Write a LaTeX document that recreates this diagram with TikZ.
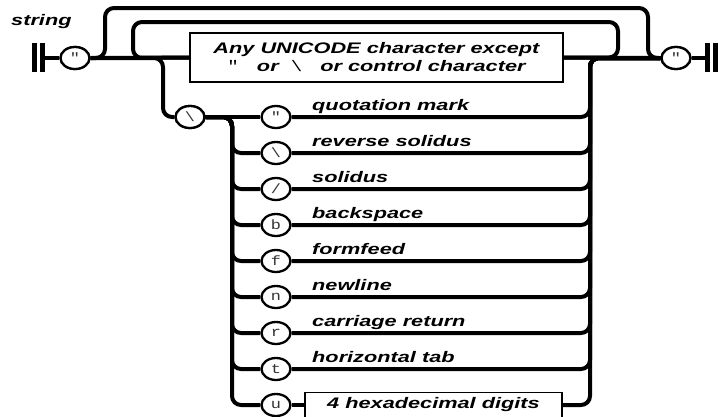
\documentclass[tikz,border=0pt]{standalone}
\usepackage{fontspec}
\usetikzlibrary{shapes.geometric,calc}
\newfontfamily\lab{Liberation Sans}[FakeStretch=1.42]
\newfontfamily\mono{Liberation Mono}[FakeStretch=1.25]
\begin{document}
\begin{tikzpicture}[x=1pt,y=-1pt,
  rail/.style={line width=4pt},
  bar/.style={line width=5pt},
  term/.style={ellipse, draw, line width=2.3pt, fill=white, minimum width=29pt, minimum height=22pt, inner sep=0pt, font=\mono\fontsize{13.5}{13.5}\selectfont, text=black!80},
  lbox/.style={draw, line width=1.6pt, fill=white, inner sep=0pt, font=\lab\bfseries\itshape\fontsize{15.3}{18}\selectfont, align=center},
  lab/.style={anchor=base west, inner sep=0pt, font=\lab\bfseries\itshape\fontsize{15.3}{18}\selectfont}]
\useasboundingbox (0,0) rectangle (718,416);

% title
\node[lab] (title) at (11,25) {string};

% bars
\coordinate (s1a) at (34.5,43); \coordinate (s1b) at (34.5,72);
\coordinate (s2a) at (42.5,43); \coordinate (s2b) at (42.5,72);
\coordinate (s2m) at (42.5,58);
\coordinate (t1a) at (707.5,43); \coordinate (t1b) at (707.5,72);
\coordinate (t2a) at (715.5,43); \coordinate (t2b) at (715.5,72);
\coordinate (t1m) at (707.5,58);
\coordinate (busL) at (232,0);
\coordinate (busR) at (590,0);

% nodes
\node[term] (q1) at (75,58) {"};
\node[term] (q2) at (676,58) {"};
\node[lbox, minimum width=373pt, minimum height=49pt] (any) at (376.5,57.5)
  {Any UNICODE character except\\{\mono\mdseries\upshape"}\ \ \ or\ \ {\mono\mdseries\upshape\textbackslash}\ \ \ or control character};
\node[term] (bs) at (190,117) {\textbackslash};

\node[term] (e1) at (276,117) {"};
\node[term] (e2) at (276,153) {\textbackslash};
\node[term] (e3) at (276,189) {/};
\node[term] (e4) at (276,225) {b};
\node[term] (e5) at (276,261) {f};
\node[term] (e6) at (276,297) {n};
\node[term] (e7) at (276,333) {r};
\node[term] (e8) at (276,369) {t};
\node[term] (e9) at (276,405) {u};
\node[lbox, minimum width=257pt, minimum height=25pt] (hex) at (433.5,405) {4 hexadecimal digits};

\node[lab] (l1) at (312,110) {quotation mark};
\node[lab] (l2) at (312,146) {reverse solidus};
\node[lab] (l3) at (312,182) {solidus};
\node[lab] (l4) at (312,218) {backspace};
\node[lab] (l5) at (312,254) {formfeed};
\node[lab] (l6) at (312,290) {newline};
\node[lab] (l7) at (312,326) {carriage return};
\node[lab] (l8) at (312,362) {horizontal tab};

% bars
\draw[bar] (s1a) -- (s1b);
\draw[bar] (s2a) -- (s2b);
\draw[bar] (t1a) -- (t1b);
\draw[bar] (t2a) -- (t2b);

% main line
\draw[rail] (s2m) -- (q1.west);
\draw[rail] (q1.east) -- (any.west);
\draw[rail] (any.east) -- (q2.west);
\draw[rail] (q2.east) -- (t1m);

% loops
\draw[rail, rounded corners=9pt] (q1.east) -| (105,8) -| (648,58) -- (q2.west);
\draw[rail, rounded corners=9pt] (any.east) -| (618,22) -| (133,58) -- (any.west);

% escape branch
\draw[rail, rounded corners=9pt] (q1.east) -| (163,117) -- (bs.west);
\draw[rail] (bs.east) -- (e1.west);
\foreach \i in {2,...,9}
  \draw[rail, rounded corners=9pt] (bs.east) -| (busL |- e\i.west) -- (e\i.west);
\foreach \i in {1,...,8}
  \draw[rail, rounded corners=9pt] (e\i.east) -| (busR |- q2.west) -- (q2.west);
\draw[rail] (e9.east) -- (hex.west);
\draw[rail, rounded corners=9pt] (hex.east) -| (busR |- q2.west) -- (q2.west);

% redraw nodes on top
\node[term] at (q1) {"};
\node[term] at (q2) {"};
\node[term] at (bs) {\textbackslash};
\end{tikzpicture}
\end{document}
